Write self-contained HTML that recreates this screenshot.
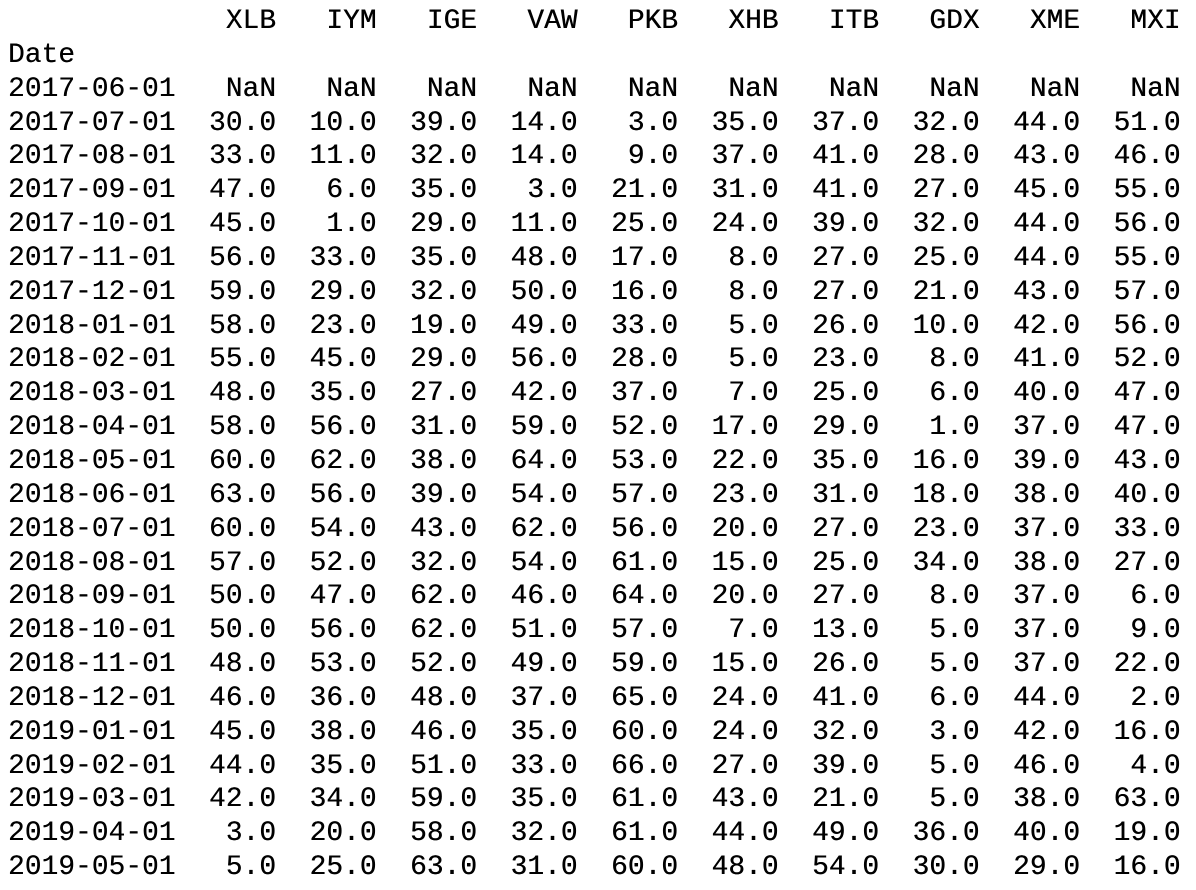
<!DOCTYPE html>
<html>
<head>
<meta charset="utf-8">
<style>
  html, body { margin: 0; padding: 0; background: #ffffff; }
  body { width: 1196px; height: 890px; overflow: hidden; }
  pre {
    margin: 0;
    padding: 5px 0 0 8px;
    font-family: "Liberation Mono", "DejaVu Sans Mono", monospace;
    font-size: 27.8px;
    line-height: 33.85px;
    letter-spacing: 0.07px;
    color: #000000;
    white-space: pre;
    text-shadow: 0.3px 0 0 #000;
  }
</style>
</head>
<body>
<pre><span>             XLB   IYM   IGE   VAW   PKB   XHB   ITB   GDX   XME   MXI</span>
<span>Date</span>
<span>2017-06-01   NaN   NaN   NaN   NaN   NaN   NaN   NaN   NaN   NaN   NaN</span>
<span>2017-07-01  30.0  10.0  39.0  14.0   3.0  35.0  37.0  32.0  44.0  51.0</span>
<span>2017-08-01  33.0  11.0  32.0  14.0   9.0  37.0  41.0  28.0  43.0  46.0</span>
<span>2017-09-01  47.0   6.0  35.0   3.0  21.0  31.0  41.0  27.0  45.0  55.0</span>
<span>2017-10-01  45.0   1.0  29.0  11.0  25.0  24.0  39.0  32.0  44.0  56.0</span>
<span>2017-11-01  56.0  33.0  35.0  48.0  17.0   8.0  27.0  25.0  44.0  55.0</span>
<span>2017-12-01  59.0  29.0  32.0  50.0  16.0   8.0  27.0  21.0  43.0  57.0</span>
<span>2018-01-01  58.0  23.0  19.0  49.0  33.0   5.0  26.0  10.0  42.0  56.0</span>
<span>2018-02-01  55.0  45.0  29.0  56.0  28.0   5.0  23.0   8.0  41.0  52.0</span>
<span>2018-03-01  48.0  35.0  27.0  42.0  37.0   7.0  25.0   6.0  40.0  47.0</span>
<span>2018-04-01  58.0  56.0  31.0  59.0  52.0  17.0  29.0   1.0  37.0  47.0</span>
<span>2018-05-01  60.0  62.0  38.0  64.0  53.0  22.0  35.0  16.0  39.0  43.0</span>
<span>2018-06-01  63.0  56.0  39.0  54.0  57.0  23.0  31.0  18.0  38.0  40.0</span>
<span>2018-07-01  60.0  54.0  43.0  62.0  56.0  20.0  27.0  23.0  37.0  33.0</span>
<span>2018-08-01  57.0  52.0  32.0  54.0  61.0  15.0  25.0  34.0  38.0  27.0</span>
<span>2018-09-01  50.0  47.0  62.0  46.0  64.0  20.0  27.0   8.0  37.0   6.0</span>
<span>2018-10-01  50.0  56.0  62.0  51.0  57.0   7.0  13.0   5.0  37.0   9.0</span>
<span>2018-11-01  48.0  53.0  52.0  49.0  59.0  15.0  26.0   5.0  37.0  22.0</span>
<span>2018-12-01  46.0  36.0  48.0  37.0  65.0  24.0  41.0   6.0  44.0   2.0</span>
<span>2019-01-01  45.0  38.0  46.0  35.0  60.0  24.0  32.0   3.0  42.0  16.0</span>
<span>2019-02-01  44.0  35.0  51.0  33.0  66.0  27.0  39.0   5.0  46.0   4.0</span>
<span>2019-03-01  42.0  34.0  59.0  35.0  61.0  43.0  21.0   5.0  38.0  63.0</span>
<span>2019-04-01   3.0  20.0  58.0  32.0  61.0  44.0  49.0  36.0  40.0  19.0</span>
<span>2019-05-01   5.0  25.0  63.0  31.0  60.0  48.0  54.0  30.0  29.0  16.0</span></pre>
</body>
</html>
